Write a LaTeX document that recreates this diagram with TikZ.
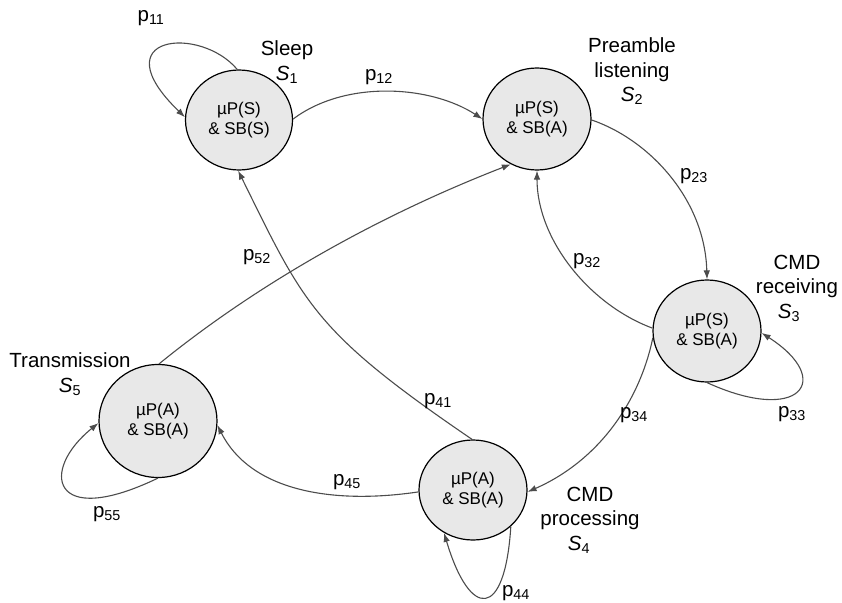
\documentclass[tikz,border=0pt]{standalone}
\usepackage{fontspec}
\setmainfont{Liberation Sans}
\usetikzlibrary{shapes.geometric,arrows.meta}
\begin{document}
\begin{tikzpicture}[x=1pt,y=-1pt,
 state/.style={ellipse, draw=black, line width=1.2pt, fill=black!9, inner sep=0pt, align=center, font=\fontsize{17}{20}\selectfont},
 edge/.style={draw=black!70, line width=1.1pt, -{Latex[length=9pt,width=6.5pt]}},
 lbl/.style={font=\fontsize{20.5}{24.5}\selectfont, align=center, inner sep=0pt},
 plbl/.style={font=\fontsize{20.5}{24}\selectfont, inner sep=0pt}]
\useasboundingbox (0,0) rectangle (842,602);
% states
\node[state, minimum width=107pt, minimum height=100pt] (s1) at (239,120) {µP(S)\\\& SB(S)};
\node[state, minimum width=108pt, minimum height=102pt] (s2) at (537,119) {µP(S)\\\& SB(A)};
\node[state, minimum width=108pt, minimum height=102pt] (s3) at (707,331) {µP(S)\\\& SB(A)};
\node[state, minimum width=108pt, minimum height=100pt] (s4) at (473,490) {µP(A)\\\& SB(A)};
\node[state, minimum width=118pt, minimum height=113pt] (s5) at (158,421) {µP(A)\\\& SB(A)};
% state names
\node[lbl] (n1) at (287,62) {Sleep\\\textit{S}\textsubscript{1}};
\node[lbl] (n2) at (632,71.5) {Preamble\\listening\\\textit{S}\textsubscript{2}};
\node[lbl] (n3) at (797,288) {CMD\\receiving\\\textit{S}\textsubscript{3}\hspace*{16pt}};
\node[lbl] (n4) at (590,520) {CMD\\processing\\\textit{S}\textsubscript{4}\hspace*{22pt}};
\node[lbl] (n5) at (70,374) {Transmission\\\textit{S}\textsubscript{5}};
% transitions
\draw[edge] (s1.92) .. controls (200,25) and (100,35) .. (s1.177);
\draw[edge] (s1.1) .. controls (345,80) and (430,85) .. (s2.180);
\draw[edge] (s2.-1) .. controls (650,140) and (705,200) .. (s3.90);
\draw[edge] (s3.177) .. controls (590,305) and (537,240) .. (s2.270);
\draw[edge] (s3.270) .. controls (800,425) and (835,380) .. (s3.358);
\draw[edge] (s3.187) .. controls (640,400) and (600,460) .. (s4.358);
\draw[edge] (s4.316) .. controls (505,620) and (470,620) .. (s4.236);
\draw[edge] (s4.91) .. controls (313,331) and (304,304) .. (s1.269);
\draw[edge] (s4.182) .. controls (330,505) and (250,490) .. (s5.356);
\draw[edge] (s5.270) .. controls (50,530) and (40,470) .. (s5.182);
\draw[edge] (s5.89) .. controls (251,289) and (370,219) .. (s2.240);
% probabilities
\node[plbl] (p11) at (151,18) {p\textsubscript{11}};
\node[plbl] (p12) at (379,77) {p\textsubscript{12}};
\node[plbl] (p23) at (694,176) {p\textsubscript{23}};
\node[plbl] (p32) at (587,261) {p\textsubscript{32}};
\node[plbl] (p33) at (792,414) {p\textsubscript{33}};
\node[plbl] (p34) at (634,415) {p\textsubscript{34}};
\node[plbl] (p44) at (516,593) {p\textsubscript{44}};
\node[plbl] (p41) at (438,401) {p\textsubscript{41}};
\node[plbl] (p45) at (347,482) {p\textsubscript{45}};
\node[plbl] (p52) at (257,257) {p\textsubscript{52}};
\node[plbl] (p55) at (107,514) {p\textsubscript{55}};
\end{tikzpicture}
\end{document}
